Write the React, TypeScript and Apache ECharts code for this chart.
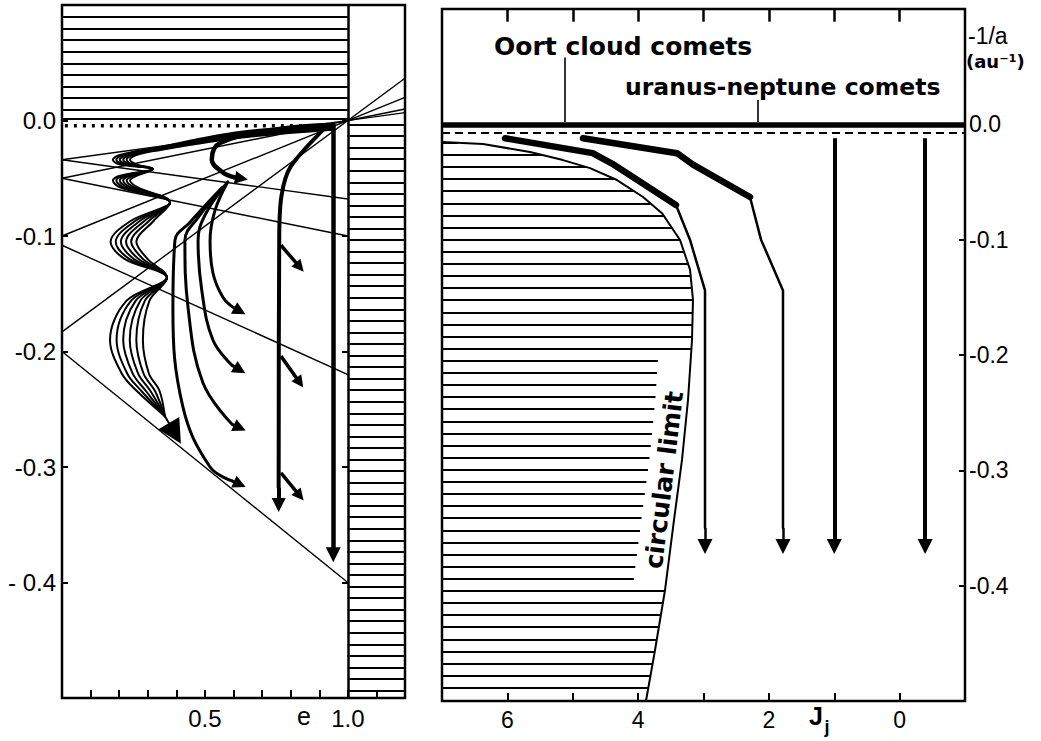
import React, { useEffect, useRef } from "react";
import * as echarts from "echarts";

// ---------------- LEFT PANEL (e , -1/a) ----------------
const E_LABELS: Record<string, string> = { "0.5": "0.5", "1": "1.0" };
const Y_LABELS: Record<string, string> = { "0": "0.0", "-0.1": "-0.1", "-0.2": "-0.2", "-0.3": "-0.3", "-0.4": "- 0.4" };
const J_LABELS: Record<string, string> = { "6": "6", "4": "4", "2": "2", "0": "0" };
const J_TOP_TICKS: number[] = [6, 5, 4, 3, 2, 1, 0];

// lines of constant perihelion distance (through e=1, -1/a=0)
const PERIHELION_LINES: number[][][] = [
  [[0, -0.034], [1.2, 0.0068]],
  [[0, -0.05], [1.2, 0.01]],
  [[0, -0.1], [1.2, 0.02]],
  [[0, -0.183], [1.2, 0.0366]],
];
// lines of constant aphelion distance
const APHELION_LINES: number[][][] = [
  [[0, -0.034], [1, -0.068]],
  [[0, -0.05], [1, -0.1]],
  [[0, -0.108], [1, -0.22]],
  [[0, -0.2], [1, -0.4]],
];

// bundle of thin zig-zag tracks
const GROUP_A: number[][][] = [
  [[0.95, -0.003], [0.62, -0.010], [0.32, -0.024], [0.200, -0.030], [0.178, -0.034], [0.200, -0.038], [0.318, -0.042], [0.200, -0.048], [0.178, -0.052], [0.205, -0.058], [0.378, -0.071], [0.240, -0.087], [0.170, -0.105], [0.220, -0.120], [0.367, -0.136], [0.226, -0.156], [0.168, -0.190], [0.209, -0.219], [0.261, -0.234], [0.360, -0.256]],
  [[0.95, -0.004], [0.62, -0.011], [0.32, -0.0245], [0.212, -0.030], [0.190, -0.034], [0.212, -0.038], [0.318, -0.042], [0.212, -0.048], [0.190, -0.052], [0.217, -0.058], [0.378, -0.071], [0.256, -0.087], [0.188, -0.105], [0.236, -0.120], [0.367, -0.136], [0.242, -0.156], [0.191, -0.190], [0.228, -0.219], [0.277, -0.234], [0.360, -0.256]],
  [[0.95, -0.005], [0.62, -0.012], [0.32, -0.025], [0.224, -0.030], [0.202, -0.034], [0.224, -0.038], [0.318, -0.042], [0.224, -0.048], [0.202, -0.052], [0.229, -0.058], [0.378, -0.071], [0.272, -0.087], [0.206, -0.105], [0.252, -0.120], [0.367, -0.136], [0.258, -0.156], [0.214, -0.190], [0.247, -0.219], [0.293, -0.234], [0.360, -0.256]],
  [[0.95, -0.006], [0.62, -0.013], [0.32, -0.0255], [0.236, -0.030], [0.214, -0.034], [0.236, -0.038], [0.318, -0.042], [0.236, -0.048], [0.214, -0.052], [0.241, -0.058], [0.378, -0.071], [0.288, -0.087], [0.224, -0.105], [0.268, -0.120], [0.367, -0.136], [0.274, -0.156], [0.237, -0.190], [0.266, -0.219], [0.309, -0.234], [0.360, -0.256]],
  [[0.95, -0.007], [0.62, -0.014], [0.32, -0.026], [0.248, -0.030], [0.226, -0.034], [0.248, -0.038], [0.318, -0.042], [0.248, -0.048], [0.226, -0.052], [0.253, -0.058], [0.378, -0.071], [0.304, -0.087], [0.242, -0.105], [0.284, -0.120], [0.367, -0.136], [0.290, -0.156], [0.260, -0.190], [0.285, -0.219], [0.325, -0.234], [0.360, -0.256]],
  [[0.95, -0.008], [0.62, -0.015], [0.32, -0.0265], [0.260, -0.030], [0.238, -0.034], [0.260, -0.038], [0.318, -0.042], [0.260, -0.048], [0.238, -0.052], [0.265, -0.058], [0.378, -0.071], [0.320, -0.087], [0.260, -0.105], [0.300, -0.120], [0.367, -0.136], [0.306, -0.156], [0.283, -0.190], [0.304, -0.219], [0.341, -0.234], [0.360, -0.256]],
];
const GROUP_A_ARROW: number[][] = [[0.355, -0.254], [0.395, -0.271]];

// hook track
const HOOK: number[][] = [[0.93, -0.004], [0.75, -0.008], [0.553, -0.0195], [0.524, -0.034], [0.563, -0.045], [0.60, -0.049]];
const HOOK_ARROW: number[][] = [[0.60, -0.049], [0.628, -0.0502]];

// fanning tracks with arrows
const GROUP_B: number[][][] = [
  [[0.58, -0.053], [0.535, -0.078], [0.518, -0.104], [0.528, -0.132], [0.563, -0.153], [0.600, -0.162]],
  [[0.574, -0.055], [0.50, -0.082], [0.476, -0.104], [0.489, -0.147], [0.528, -0.190], [0.595, -0.212]],
  [[0.567, -0.057], [0.476, -0.084], [0.43, -0.104], [0.441, -0.162], [0.493, -0.227], [0.595, -0.263]],
  [[0.56, -0.058], [0.448, -0.088], [0.395, -0.104], [0.388, -0.162], [0.423, -0.248], [0.518, -0.300], [0.595, -0.312]],
];
const GROUP_B_TIPS: number[][] = [[0.622, -0.165], [0.622, -0.216], [0.622, -0.266], [0.622, -0.315]];

// vertical track with side branches
const VERT_B: number[][] = [[0.93, -0.004], [0.80, -0.040], [0.768, -0.065], [0.760, -0.10], [0.758, -0.318]];
const VERT_B_TIP: number[] = [0.758, -0.333];
const BRANCHES: number[][][] = [
  [[0.766, -0.108], [0.832, -0.127]],
  [[0.766, -0.204], [0.832, -0.227]],
  [[0.766, -0.305], [0.832, -0.325]],
];
const VERT_A: number[][] = [[0.949, -0.003], [0.949, -0.376]];
const DOTTED_BAND: number[][] = [[0.01, -0.0045], [0.93, -0.0045]];

// ---------------- RIGHT PANEL (J_j , -1/a) ----------------
const CIRC_LIMIT: number[][] = [
  [7.0, -0.0153], [6.373, -0.0171], [5.654, -0.024], [5.149, -0.031], [4.736, -0.038], [4.323, -0.0483],
  [3.925, -0.063], [3.635, -0.077], [3.359, -0.1003], [3.206, -0.126], [3.161, -0.152], [3.176, -0.187],
  [3.237, -0.239], [3.329, -0.291], [3.451, -0.343], [3.589, -0.404], [3.742, -0.456], [3.88, -0.5],
];
const OORT_THICK: number[][] = [[6.036, -0.012], [4.695, -0.025], [4.40, -0.034], [3.421, -0.070]];
const OORT_THIN: number[][] = [[3.421, -0.070], [3.207, -0.100], [2.977, -0.144], [2.977, -0.350]];
const UN_THICK: number[][] = [[4.843, -0.012], [3.405, -0.025], [3.161, -0.035], [2.289, -0.063]];
const UN_THIN: number[][] = [[2.289, -0.063], [2.12, -0.100], [1.784, -0.144], [1.784, -0.350]];
const THIN_TIPS: number[][] = [[2.977, -0.366], [1.784, -0.366]];
const VERT_J: number[] = [1.0, -0.39];
const VERT_J_RANGE: number[] = [-0.012, -0.366];
const POINTERS: number[][][] = [
  [[5.119, 0.058], [5.119, 0.002]],
  [[2.166, 0.021], [2.166, 0.002]],
];

// --------- decorative hatching (built from the limits above) ---------
const TOP_HATCH_Y = [0.0015, 0.0095, 0.0195, 0.0295, 0.0395, 0.0495, 0.0595, 0.0695, 0.0795, 0.0895];
const STRIP_HATCH_Y = Array.from({ length: 50 }, (_, k) => -0.0035 - 0.01 * k);
const RIGHT_HATCH_Y = Array.from({ length: 46 }, (_, k) => -0.016 - 0.0105 * k);

function limitJ(y: number): number {
  for (let i = 0; i < CIRC_LIMIT.length - 1; i++) {
    const [j1, y1] = CIRC_LIMIT[i];
    const [j2, y2] = CIRC_LIMIT[i + 1];
    if (y <= y1 && y >= y2) {
      const t = (y - y1) / (y2 - y1);
      return j1 + t * (j2 - j1);
    }
  }
  return CIRC_LIMIT[CIRC_LIMIT.length - 1][0];
}

const BLACK = "#000";

function segs(list: number[][][], width: number, xi: number, yi: number, extra: any = {}) {
  return {
    type: "lines",
    coordinateSystem: "cartesian2d",
    xAxisIndex: xi,
    yAxisIndex: yi,
    silent: true,
    clip: false,
    data: list.map((c) => ({ coords: c })),
    lineStyle: { color: BLACK, width, opacity: 1, type: "solid", ...(extra.lineStyle || {}) },
    symbol: extra.symbol || ["none", "none"],
    symbolSize: extra.symbolSize || 10,
    z: extra.z || 2,
  };
}

function curve(data: number[][], width: number, xi: number, yi: number, smooth: number | boolean, arrow?: { from: number[]; to: number[]; size: number }) {
  const s: any = {
    type: "line",
    xAxisIndex: xi,
    yAxisIndex: yi,
    data,
    symbol: "none",
    smooth,
    silent: true,
    lineStyle: { color: BLACK, width, cap: "round", join: "round" },
    z: 3,
  };
  if (arrow) {
    s.markLine = {
      silent: true,
      symbol: ["none", "triangle"],
      symbolSize: arrow.size,
      label: { show: false },
      emphasis: { disabled: true },
      lineStyle: { color: BLACK, width, type: "solid" },
      data: [[{ coord: arrow.from }, { coord: arrow.to }]],
    };
  }
  return s;
}

const tickFont = { color: BLACK, fontFamily: "Liberation Sans", fontSize: 24 };
const noLine = { show: false, onZero: false };

function textGraphics(): any[] {
  const textBase = { fill: BLACK };
  const mid = { textVerticalAlign: "middle", verticalAlign: "middle" };
  const ctr = { textAlign: "center", align: "center" };
  return [
    { type: "text", x: 494, y: 46, style: { ...textBase, ...mid, text: "Oort cloud comets", fontFamily: "DejaVu Sans", fontWeight: "bold", fontSize: 25 } },
    { type: "text", x: 625, y: 87, style: { ...textBase, ...mid, text: "uranus-neptune comets", fontFamily: "DejaVu Sans", fontWeight: "bold", fontSize: 23.5 } },
    { type: "text", x: 968, y: 36, style: { ...textBase, ...mid, text: "-1/a", fontFamily: "Liberation Sans", fontSize: 23 } },
    { type: "text", x: 966, y: 61, style: { ...textBase, ...mid, text: "(au\u207B\u00B9)", fontFamily: "DejaVu Sans", fontWeight: "bold", fontSize: 18 } },
    { type: "text", x: 664, y: 480, rotation: 1.449, style: { ...textBase, ...mid, ...ctr, text: "circular limit", fontFamily: "DejaVu Sans", fontWeight: "bold", fontSize: 25 } },
    { type: "text", x: 304, y: 716, style: { ...textBase, ...mid, ...ctr, text: "e", fontFamily: "Liberation Sans", fontSize: 25 } },
    { type: "text", x: 816, y: 716, style: { ...textBase, ...mid, ...ctr, text: "J", fontFamily: "Liberation Sans", fontWeight: "bold", fontSize: 25 } },
    { type: "text", x: 827, y: 727, style: { ...textBase, ...mid, ...ctr, text: "j", fontFamily: "Liberation Sans", fontWeight: "bold", fontSize: 18 } },
  ];
}

function buildOption() {
  const series: any[] = [];

  // left panel hatching
  series.push(segs(TOP_HATCH_Y.map((y) => [[0, y], [1, y]]), 2, 0, 0));
  series.push(segs(STRIP_HATCH_Y.map((y) => [[1, y], [1.2, y]]), 2, 0, 0));
  series.push(segs([[[1, 0.1], [1, -0.5]]], 2.5, 0, 0));
  series.push({
    type: "line", xAxisIndex: 0, yAxisIndex: 0, data: DOTTED_BAND, symbol: "none", silent: true,
    lineStyle: { color: BLACK, width: 3.5, type: [3, 6] }, z: 2,
  });
  series.push(segs(PERIHELION_LINES, 1.4, 0, 0));
  series.push(segs(APHELION_LINES, 1.4, 0, 0));

  GROUP_A.forEach((c, i) => {
    series.push(
      curve(c, 2, 0, 0, 0.35, i === 0 ? { from: GROUP_A_ARROW[0], to: GROUP_A_ARROW[1], size: 24 } : undefined)
    );
  });
  series.push(curve(HOOK, 4.5, 0, 0, 0.4, { from: HOOK_ARROW[0], to: HOOK_ARROW[1], size: 13 }));
  GROUP_B.forEach((c, i) => {
    series.push(curve(c, 3, 0, 0, 0.4, { from: c[c.length - 1], to: GROUP_B_TIPS[i], size: 13 }));
  });
  series.push(curve(VERT_B, 4, 0, 0, 0.3, { from: VERT_B[VERT_B.length - 1], to: VERT_B_TIP, size: 14 }));
  series.push(segs(BRANCHES, 3.5, 0, 0, { symbol: ["none", "triangle"], symbolSize: 12 }));
  series.push(segs([VERT_A], 4.5, 0, 0, { symbol: ["none", "triangle"], symbolSize: 15 }));

  // right panel
  series.push(
    segs(
      RIGHT_HATCH_Y.map((y) => {
        const gap = y <= -0.195 && y >= -0.40 ? 0.5 : 0;
        return [[7, y], [limitJ(y) + gap, y]];
      }),
      2,
      1,
      2
    )
  );
  // ticks along the top edge of the right panel
  series.push(segs(J_TOP_TICKS.map((j) => [[j, 0.0995], [j, 0.089]]), 2.5, 1, 2, { z: 10 }));
  series.push(curve(CIRC_LIMIT, 2, 1, 2, false));
  series.push(segs([[[7, 0], [-1, 0]]], 5.5, 1, 2));
  series.push(segs([[[7, -0.0075], [-1, -0.0075]]], 2, 1, 2, { lineStyle: { type: [8, 5] } }));
  series.push(segs(POINTERS, 1.6, 1, 2));
  series.push(curve(OORT_THICK, 6.5, 1, 2, false));
  series.push(curve(UN_THICK, 6.5, 1, 2, false));
  series.push(curve(OORT_THIN, 2.5, 1, 2, false, { from: OORT_THIN[OORT_THIN.length - 1], to: THIN_TIPS[0], size: 15 }));
  series.push(curve(UN_THIN, 2.5, 1, 2, false, { from: UN_THIN[UN_THIN.length - 1], to: THIN_TIPS[1], size: 15 }));
  series.push(
    segs(
      VERT_J.map((j) => [[j, VERT_J_RANGE[0]], [j, VERT_J_RANGE[1]]]),
      4,
      1,
      2,
      { symbol: ["none", "triangle"], symbolSize: 15 }
    )
  );

  const key = (v: number) => String(Math.round(v * 10) / 10);
  const tick = (length: number) => ({ inside: true, length, lineStyle: { color: BLACK, width: 2 } });

  return {
    animation: false,
    backgroundColor: "#fff",
    grid: [
      { left: 62, top: 5, width: 343, height: 693, show: true, borderColor: BLACK, borderWidth: 2.5, backgroundColor: "transparent" },
      { left: 442, top: 9, width: 523, height: 692, show: true, borderColor: BLACK, borderWidth: 2.5, backgroundColor: "transparent" },
    ],
    xAxis: [
      {
        gridIndex: 0, type: "value", min: 0, max: 1.2, interval: 0.1, position: "bottom",
        axisLine: noLine, splitLine: { show: false }, axisTick: tick(8),
        axisLabel: { ...tickFont, margin: 8, formatter: (v: number) => E_LABELS[key(v)] || "" },
      },
      {
        gridIndex: 1, type: "value", min: -1, max: 7, interval: 1, inverse: true, position: "bottom",
        axisLine: noLine, splitLine: { show: false }, axisTick: tick(8),
        axisLabel: { ...tickFont, fontSize: 23, margin: 7, formatter: (v: number) => J_LABELS[String(Math.round(v))] || "" },
      },
    ],
    yAxis: [
      {
        gridIndex: 0, type: "value", min: -0.5, max: 0.1, interval: 0.1, position: "left",
        axisLine: noLine, splitLine: { show: false }, axisTick: tick(6),
        axisLabel: { ...tickFont, margin: 6, formatter: (v: number) => Y_LABELS[key(v)] || "" },
      },
      {
        gridIndex: 0, type: "value", min: -0.5, max: 0.1, interval: 0.1, position: "right", offset: -57,
        axisLine: noLine, splitLine: { show: false }, axisTick: tick(6),
        axisLabel: { show: false },
      },
      {
        gridIndex: 1, type: "value", min: -0.5, max: 0.1, interval: 0.1, position: "right",
        axisLine: noLine, splitLine: { show: false }, axisTick: tick(6),
        axisLabel: { ...tickFont, fontSize: 23, margin: 4, formatter: (v: number) => (Y_LABELS[key(v)] || "").replace("- ", "-") },
      },
    ],
    series,
    graphic: textGraphics(),
  };
}

export default function App() {
  const ref = useRef<HTMLDivElement>(null);
  useEffect(() => {
    if (!ref.current) return;
    const chart = echarts.init(ref.current, null, { renderer: "svg" });
    chart.setOption(buildOption() as any);
    return () => chart.dispose();
  }, []);
  return (
    <div
      ref={ref}
      style={{ position: "absolute", left: 0, top: 0, width: 1041, height: 741, background: "#fff" }}
    />
  );
}
